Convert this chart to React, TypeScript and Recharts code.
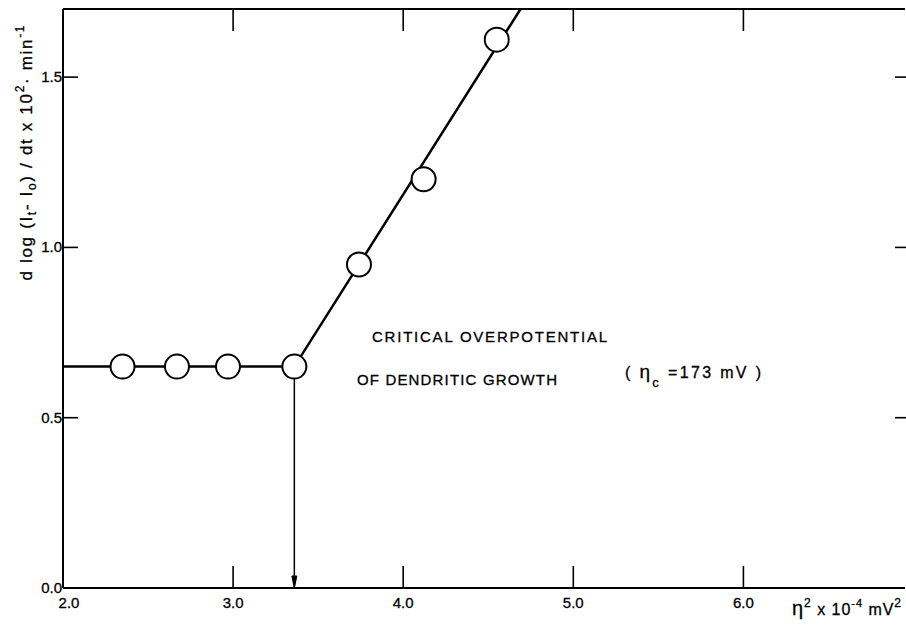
import React from 'react';
import { ComposedChart, XAxis, YAxis, Line, Scatter } from 'recharts';

// measured points: eta^2 x 10^-4 (mV^2) vs d log(I_t - I_o)/dt x 10^2 (min^-1)
const pointX = [2.35, 2.67, 2.97, 3.36, 3.74, 4.12, 4.55];
const pointY = [0.65, 0.65, 0.65, 0.65, 0.95, 1.2, 1.61];
// fitted line (plateau, then linear rise)
const fitX = [2.0, 3.36, 4.69];
const fitY = [0.65, 0.65, 1.7];
// critical overpotential marker
const criticalX = 3.36;
const criticalY = 0.65;

const xTicks = [2, 3, 4, 5, 6];
const xInnerTicks = [3, 4, 5, 6];
const yTicks = [0, 0.5, 1.0, 1.5];
const yInnerTicks = [0.5, 1.0, 1.5];
const xDomain: [number, number] = [2, 6.95];
const yDomain: [number, number] = [0, 1.7];

const points = pointX.map((x, i) => ({ x, y: pointY[i] }));
const fit = fitX.map((x, i) => ({ x, y: fitY[i] }));
const drop = [
  { x: criticalX, y: criticalY },
  { x: criticalX, y: 0 },
];

const FONT = '"Liberation Sans", Arial, sans-serif';
const AX = { stroke: '#000', strokeWidth: 2 };
const INK = { fill: '#000', stroke: '#000', strokeWidth: 0.3 };

const BottomTick = (p: any) => {
  const v = p.payload.value;
  return (
    <g>
      {v !== 2 && <line x1={p.x} x2={p.x} y1={p.y} y2={p.y - 22} stroke="#000" strokeWidth={1.6} />}
      <text x={p.x + (v === 2 ? 6 : 0)} y={p.y + 20} textAnchor="middle" fontFamily={FONT} fontSize={15} {...INK}>
        {v.toFixed(1)}
      </text>
    </g>
  );
};

const TopTick = (p: any) => (
  <line x1={p.x} x2={p.x} y1={p.y} y2={p.y + 22} stroke="#000" strokeWidth={1.6} />
);

const LeftTick = (p: any) => {
  const v = p.payload.value;
  return (
    <g>
      {v !== 0 && <line x1={p.x} x2={p.x + 15} y1={p.y} y2={p.y} stroke="#000" strokeWidth={1.6} />}
      <text x={p.x - 1} y={p.y + 5} textAnchor="end" fontFamily={FONT} fontSize={15} {...INK}>
        {v.toFixed(1)}
      </text>
    </g>
  );
};

const RightTick = (p: any) => (
  <line x1={p.x - 10} x2={p.x + 2} y1={p.y} y2={p.y} stroke="#000" strokeWidth={1.6} />
);

const Circle = (p: any) => (
  <circle cx={p.cx} cy={p.cy} r={12} fill="#fff" stroke="#000" strokeWidth={2} />
);

const ArrowDot = (p: any) => {
  if (p.payload && p.payload.y === 0) {
    return (
      <path
        key={`a-${p.index}`}
        d={`M${p.cx - 2.5},${p.cy - 12} L${p.cx + 2.5},${p.cy - 12} L${p.cx},${p.cy} Z`}
        fill="#000"
        stroke="#000"
      />
    );
  }
  return <g key={`a-${p.index}`} />;
};

export default function App() {
  return (
    <div style={{ position: 'absolute', left: 0, top: 0, width: 906, height: 632, overflow: 'hidden', background: '#fff' }}>
      <ComposedChart width={906} height={632} margin={{ top: 8, right: 0, bottom: 8, left: 8 }}>
        <XAxis
          xAxisId="b"
          type="number"
          dataKey="x"
          domain={xDomain}
          ticks={xTicks}
          interval={0}
          allowDataOverflow
          height={36}
          tickSize={0}
          tickMargin={0}
          tick={<BottomTick />}
          axisLine={AX}
        />
        <XAxis
          xAxisId="t"
          orientation="top"
          type="number"
          dataKey="x"
          domain={xDomain}
          ticks={xInnerTicks}
          interval={0}
          allowDataOverflow
          height={1}
          tickSize={0}
          tickMargin={0}
          tick={<TopTick />}
          axisLine={AX}
        />
        <YAxis
          yAxisId="l"
          type="number"
          dataKey="y"
          domain={yDomain}
          ticks={yTicks}
          interval={0}
          allowDataOverflow
          width={55}
          tickSize={0}
          tickMargin={0}
          tick={<LeftTick />}
          axisLine={AX}
        />
        <YAxis
          yAxisId="r"
          orientation="right"
          type="number"
          dataKey="y"
          domain={yDomain}
          ticks={yInnerTicks}
          interval={0}
          allowDataOverflow
          width={1}
          tickSize={0}
          tickMargin={0}
          tick={<RightTick />}
          axisLine={false}
        />
        <Line
          xAxisId="b"
          yAxisId="l"
          data={drop}
          dataKey="y"
          type="linear"
          stroke="#000"
          strokeWidth={1.5}
          dot={<ArrowDot />}
          activeDot={false}
          isAnimationActive={false}
        />
        <Line
          xAxisId="b"
          yAxisId="l"
          data={fit}
          dataKey="y"
          type="linear"
          stroke="#000"
          strokeWidth={2.5}
          dot={false}
          activeDot={false}
          isAnimationActive={false}
        />
        <Scatter
          xAxisId="b"
          yAxisId="l"
          data={points}
          dataKey="y"
          shape={<Circle />}
          isAnimationActive={false}
        />
        <text
          transform="translate(32,153) rotate(-90)"
          textAnchor="middle"
          fontFamily={FONT}
          fontSize={17}
          textLength={255}
          lengthAdjust="spacing"
          {...INK}
        >
          <tspan>d log (I</tspan>
          <tspan fontSize={12} dy={4}>t</tspan>
          <tspan dy={-4}>- I</tspan>
          <tspan fontSize={12} dy={4}>o</tspan>
          <tspan dy={-4}>) / dt x 10</tspan>
          <tspan fontSize={12} dy={-8}>2</tspan>
          <tspan dy={8}>· min</tspan>
          <tspan fontSize={12} dy={-8}>-1</tspan>
        </text>
        <text x={372} y={342} fontFamily={FONT} fontSize={15} textLength={235} lengthAdjust="spacing" {...INK}>
          CRITICAL  OVERPOTENTIAL
        </text>
        <text x={357} y={385} fontFamily={FONT} fontSize={15} textLength={200} lengthAdjust="spacing" {...INK}>
          OF  DENDRITIC  GROWTH
        </text>
        <text x={625} y={378} fontFamily={FONT} fontSize={16} textLength={136} lengthAdjust="spacing" {...INK}>
          <tspan>( </tspan>
          <tspan fontSize={19}>η</tspan>
          <tspan fontSize={13} dy={9}>c</tspan>
          <tspan dy={-9}> =173 mV )</tspan>
        </text>
        <text x={792} y={615} fontFamily={FONT} fontSize={16} textLength={109} lengthAdjust="spacing" {...INK}>
          <tspan fontSize={20}>η</tspan>
          <tspan fontSize={12} dy={-8}>2</tspan>
          <tspan dy={8}> x 10</tspan>
          <tspan fontSize={11} dy={-8}>-4</tspan>
          <tspan dy={8}> mV</tspan>
          <tspan fontSize={12} dy={-8}>2</tspan>
        </text>
      </ComposedChart>
    </div>
  );
}
